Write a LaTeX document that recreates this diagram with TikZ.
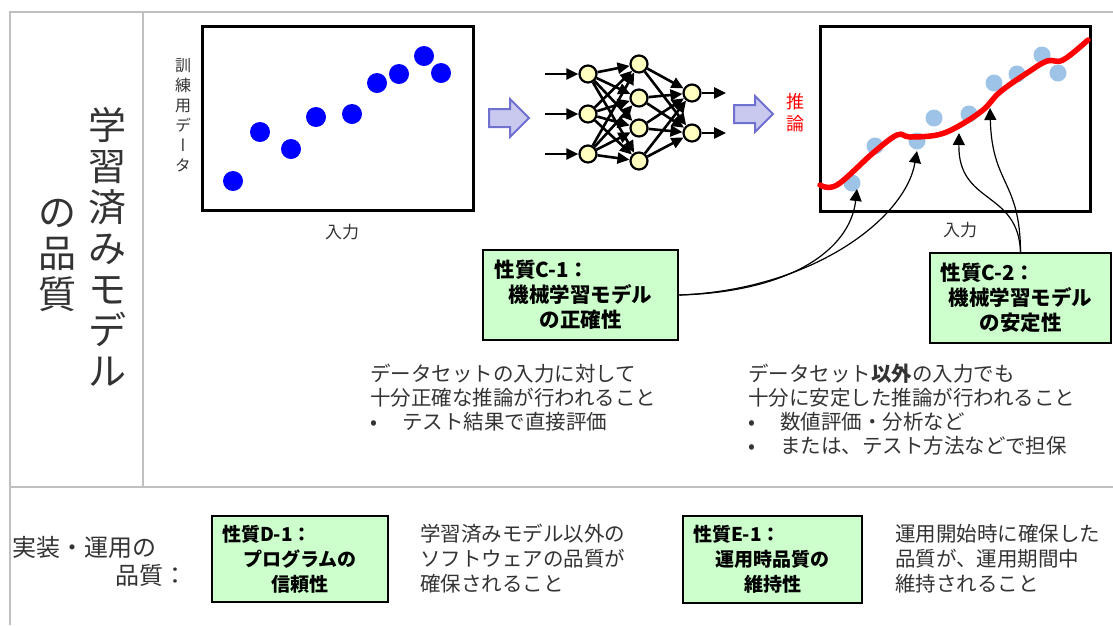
\documentclass[tikz,border=0pt]{standalone}
\usepackage{fontspec}
\setmainfont{Noto Sans CJK JP}
\newfontfamily\vertfont[RawFeature=+vert]{Noto Sans CJK JP}
\usetikzlibrary{arrows.meta}
\definecolor{framegray}{RGB}{192,192,192}
\definecolor{dotblue}{RGB}{0,0,255}
\definecolor{lightdot}{RGB}{157,195,230}
\definecolor{nodeyellow}{RGB}{255,255,192}
\definecolor{boxgreen}{RGB}{204,255,204}
\definecolor{arrowfill}{RGB}{201,201,239}
\definecolor{arrowedge}{RGB}{112,112,208}
\definecolor{textgray}{RGB}{51,51,51}
\tikzset{
  neuron/.style={circle,draw=black,line width=2.2pt,fill=nodeyellow,minimum size=17pt,inner sep=0pt},
  synapse/.style={line width=2.6pt,-{Triangle[length=12pt,width=11pt]}},
  propbox/.style={draw=black,line width=2.5pt,fill=boxgreen,font=\fontsize{20.5}{25}\selectfont\bfseries,align=center,inner sep=0pt},
  pointer/.style={line width=1.2pt,-{Triangle[length=12pt,width=12pt]}},
  desc/.style={font=\fontsize{20.5}{24}\selectfont,text=textgray,align=left,anchor=north west,inner sep=0pt},
  fatarrow/.style={fill=arrowfill,draw=arrowedge,line width=2pt,line join=miter},
}
\begin{document}
\begin{tikzpicture}[x=1pt,y=-1pt]
  \useasboundingbox (0,0) rectangle (1113,625);
  % frame
  \draw[framegray,line width=2pt] (1113,12) -- (10,12) -- (10,625);
  \draw[framegray,line width=2pt] (10,487) -- (1113,487);
  \draw[framegray,line width=2pt] (143,12) -- (143,487);
  \node[font=\fontsize{38}{41}\selectfont,align=center,text=textgray,inner sep=0pt] (title) at (107,247) {学\\習\\済\\み\\モ\\デ\\ル};
  \node[font=\fontsize{38}{41}\selectfont,align=center,text=textgray,inner sep=0pt] (titlesub) at (57,255) {の\\品\\質};

  % training data
  \draw[line width=3pt] (202,26) rectangle (473,210);
  \foreach \x/\y in {233/181,260/132,291/149,316/117,352/114,377/83,399/74,424/56,441/73}
    \fill[dotblue] (\x,\y) circle[radius=10pt];
  \node[font=\vertfont\fontsize{16}{20}\selectfont,align=center,text=textgray,inner sep=0pt] (ylabel) at (183,115) {訓\\練\\用\\デ\\ー\\タ};
  \node[font=\fontsize{17}{20}\selectfont,text=textgray] (xlabelA) at (342,232) {入力};

  % network
  \draw[fatarrow] (489,109) -- (510,109) -- (510,99) -- (529,118) -- (510,137) -- (510,127) -- (489,127) -- cycle;
  \foreach \n/\y in {1/74,2/114,3/154}
    \node[neuron] (in\n) at (588,\y) {};
  \foreach \n/\y in {1/64,2/98,3/128,4/161}
    \node[neuron] (hid\n) at (639,\y) {};
  \foreach \n/\y in {1/93,2/133}
    \node[neuron] (out\n) at (692,\y) {};
  \foreach \n/\y in {1/74,2/114,3/154} {
    \coordinate (src\n) at (545,\y);
    \draw[synapse] (src\n) -- (in\n);
  }
  \foreach \i in {1,2,3}
    \foreach \j in {1,...,4}
      \draw[synapse] (in\i) -- (hid\j);
  \foreach \i in {1,...,4}
    \foreach \j in {1,2}
      \draw[synapse] (hid\i) -- (out\j);
  \foreach \n/\y in {1/93,2/133} {
    \coordinate (dst\n) at (726,\y);
    \draw[synapse] (out\n) -- (dst\n);
  }
  \draw[fatarrow] (734,105) -- (755,105) -- (755,96) -- (773,114) -- (755,132) -- (755,123) -- (734,123) -- cycle;
  \node[font=\fontsize{18}{22}\selectfont,align=center,text=red,inner sep=0pt] (infer) at (795,113) {推\\論};

  % inference result
  \draw[line width=3pt] (820,26) rectangle (1090,211);
  \foreach \x/\y in {852/183,875/146,917/141,934/118,969/114,994/83,1017/74,1042/55,1058/73}
    \fill[lightdot] (\x,\y) circle[radius=8.5pt];
  \draw[red,line width=5.5pt,line cap=round] plot[smooth,tension=0.6] coordinates {(820,185) (837,185) (873,153) (897,135) (910,137) (937,135) (957,127) (983,110) (1000,92) (1027,73) (1047,61) (1063,60) (1088,40)};
  \node[font=\fontsize{17}{20}\selectfont,text=textgray] (xlabelB) at (960,230) {入力};

  % properties C
  \node[propbox,minimum width=195pt,minimum height=90pt,text width=172pt] (c1) at (580.5,295) {\makebox[172pt][l]{性質C-1：}\\機械学習モデル\\の正確性};
  \node[propbox,minimum width=181pt,minimum height=90pt,text width=160pt] (c2) at (1020.5,298) {\makebox[160pt][l]{性質C-2：}\\機械学習モデル\\の安定性};
  \coordinate (tipA) at (857,189);
  \coordinate (tipB) at (917,151);
  \coordinate (tipC) at (959,133);
  \coordinate (tipD) at (990,108);
  \draw[pointer] (c1.east) .. controls (790,292) and (850,250) .. (tipA);
  \draw[pointer] (c1.east) .. controls (810,290) and (905,220) .. (tipB);
  \draw[pointer] (c2.north) .. controls (1018,190) and (958,205) .. (tipC);
  \draw[pointer] (c2.north) .. controls (1020,180) and (992,185) .. (tipD);
  \node[desc] (c1text) at (370,364) {データセットの入力に対して\\十分正確な推論が行われること\\\makebox[32pt][l]{•}テスト結果で直接評価};
  \node[desc] (c2text) at (748,364) {データセット\textbf{以外}の入力でも\\十分に安定した推論が行われること\\\makebox[32pt][l]{•}数値評価・分析など\\\makebox[32pt][l]{•}または、テスト方法などで担保};

  % implementation and operation
  \node[font=\fontsize{24}{28}\selectfont,align=left,text=textgray,anchor=north west,inner sep=0pt] (impl) at (12,536) {実装・運用の\\\hspace*{103pt}品質：};
  \node[propbox,font=\fontsize{19}{25}\selectfont\bfseries,minimum width=176pt,minimum height=86pt,text width=156pt] (d1) at (300,559) {\makebox[156pt][l]{性質D-1：}\\プログラムの\\信頼性};
  \node[desc,font=\fontsize{20.5}{25}\selectfont] (d1text) at (420,524) {学習済みモデル以外の\\ソフトウェアの品質が\\確保されること};
  \node[propbox,font=\fontsize{19}{25}\selectfont\bfseries,minimum width=179pt,minimum height=87pt,text width=159pt] (e1) at (772.5,559.5) {\makebox[159pt][l]{性質E-1：}\\運用時品質の\\維持性};
  \node[desc,font=\fontsize{20.5}{25}\selectfont] (e1text) at (895,524) {運用開始時に確保した\\品質が、運用期間中\\維持されること};
\end{tikzpicture}
\end{document}
